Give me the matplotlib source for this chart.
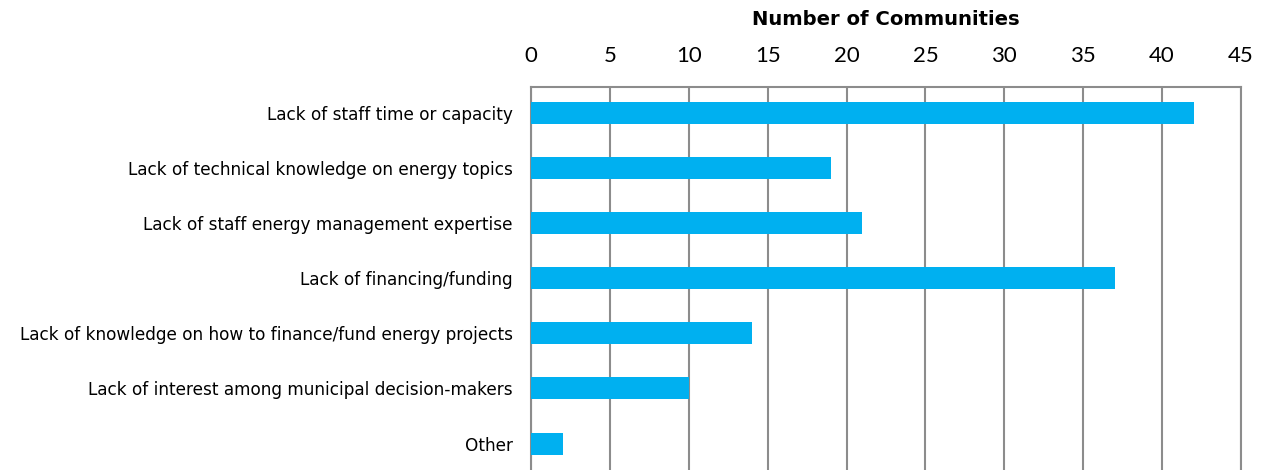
import numpy as np
import matplotlib
matplotlib.use("Agg")
import matplotlib.pyplot as plt

plt.rcParams['font.family'] = ['Lato', 'DejaVu Sans']

# barriers reported by communities
categories = ["Lack of staff time or capacity",
              "Lack of technical knowledge on energy topics",
              "Lack of staff energy management expertise",
              "Lack of financing/funding",
              "Lack of knowledge on how to finance/fund energy projects",
              "Lack of interest among municipal decision-makers",
              "Other"]
counts = [42, 19, 21, 37, 14, 10, 2]
xticks = [0, 5, 10, 15, 20, 25, 30, 35, 40, 45]

fig = plt.figure(figsize=(12.68, 4.7), dpi=100)
ax = fig.add_axes([531/1268, 0.0, (1241-531)/1268, 1 - 87/470])

y = np.arange(len(categories))
ax.barh(y, counts, height=0.4, color='#00B0F0', zorder=3)

ax.set_xlim(0, 45)
ax.set_ylim(len(categories) - 0.52, -0.47)
ax.set_xticks(xticks)
ax.xaxis.tick_top()
ax.xaxis.set_label_position('top')
ax.tick_params(axis='x', length=0, labelsize=16, pad=15, colors='black')
ax.tick_params(axis='y', length=0, pad=13)
ax.set_yticks(y)
ax.set_yticklabels(categories, fontsize=12.2, family='DejaVu Sans')
ax.set_xlabel('Number of Communities', fontsize=14.1, fontweight='bold',
              family='DejaVu Sans', labelpad=15)

ax.grid(axis='x', color='#8c8c8c', linewidth=1.5, zorder=0)
for side in ['top', 'left', 'right']:
    ax.spines[side].set_color('#8c8c8c')
    ax.spines[side].set_linewidth(1.5)
ax.spines['bottom'].set_visible(False)

plt.savefig('out.png', dpi=100)
plt.close('all')
